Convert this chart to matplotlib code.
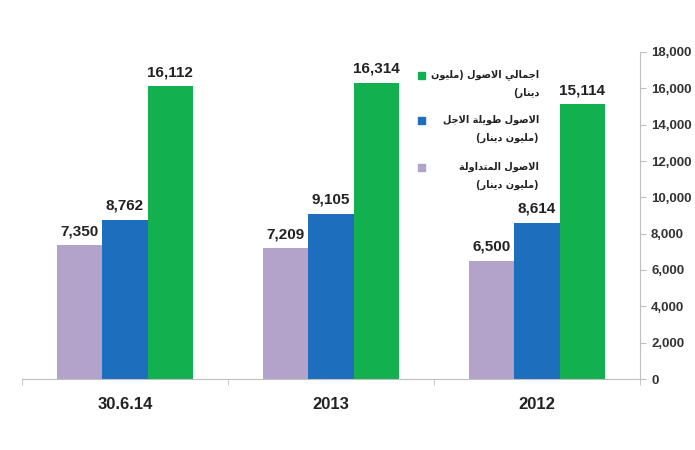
import matplotlib
matplotlib.use("Agg")
import numpy as np
import matplotlib.pyplot as plt
from matplotlib.patches import Rectangle

# data
categories = ["30.6.14", "2013", "2012"]
current_assets = [7350, 7209, 6500]
longterm_assets = [8762, 9105, 8614]
total_assets = [16112, 16314, 15114]
series_names = [
    ["اجمالي الاصول (مليون", "دينار)"],
    ["الاصول طويلة الاجل", "(مليون دينار)"],
    ["الاصول المتداولة", "(مليون دينار)"],
]
colors = ["#B3A3CA", "#1D6FBD", "#12B04F"]

# tiny arabic shaper (matplotlib has no bidi/shaping)
FORMS = {
    'ا': (0xFE8D, 0xFE8E, None, None),
    'ت': (0xFE95, 0xFE96, 0xFE97, 0xFE98),
    'ة': (0xFE93, 0xFE94, None, None),
    'ج': (0xFE9D, 0xFE9E, 0xFE9F, 0xFEA0),
    'د': (0xFEA9, 0xFEAA, None, None),
    'ر': (0xFEAD, 0xFEAE, None, None),
    'ص': (0xFEB9, 0xFEBA, 0xFEBB, 0xFEBC),
    'ط': (0xFEC1, 0xFEC2, 0xFEC3, 0xFEC4),
    'ل': (0xFEDD, 0xFEDE, 0xFEDF, 0xFEE0),
    'م': (0xFEE1, 0xFEE2, 0xFEE3, 0xFEE4),
    'ن': (0xFEE5, 0xFEE6, 0xFEE7, 0xFEE8),
    'و': (0xFEED, 0xFEEE, None, None),
    'ي': (0xFEF1, 0xFEF2, 0xFEF3, 0xFEF4),
    'LA': (0xFEFB, 0xFEFC, None, None),
}


def shape(s):
    toks = []
    i = 0
    while i < len(s):
        if s[i] == 'ل' and i + 1 < len(s) and s[i + 1] == 'ا':
            toks.append('LA')
            i += 2
        else:
            toks.append(s[i])
            i += 1
    out = []
    for k, t in enumerate(toks):
        if t not in FORMS:
            out.append({'(': ')', ')': '('}.get(t, t))
            continue
        f = FORMS[t]
        prev = k > 0 and toks[k - 1] in FORMS and FORMS[toks[k - 1]][2] is not None
        nxt = f[2] is not None and k + 1 < len(toks) and toks[k + 1] in FORMS
        if prev and nxt:
            c = f[3]
        elif prev:
            c = f[1]
        elif nxt:
            c = f[2]
        else:
            c = f[0]
        out.append(chr(c))
    return "".join(reversed(out))


fig = plt.figure(figsize=(6.95, 4.5), dpi=100)
ax = fig.add_axes([22 / 695, 1 - 379 / 450, (640 - 22) / 695, (379 - 52) / 450])

x = np.arange(len(categories))
w = 0.22
allv = [current_assets, longterm_assets, total_assets]
for j, vals in enumerate(allv):
    bars = ax.bar(x + (j - 1) * w, vals, w, color=colors[j], linewidth=0)
    for b, v in zip(bars, vals):
        ax.annotate(f"{v:,}", (b.get_x() + b.get_width() / 2, v), xytext=(0, 5),
                    textcoords="offset points", ha="center", va="bottom",
                    fontsize=11, fontweight="bold", family="Liberation Sans", color="#222222")

ax.set_xlim(-0.5, 2.5)
ax.set_ylim(0, 18000)
ax.set_yticks(np.arange(0, 18001, 2000))
ax.set_yticklabels([f"{t:,}" for t in range(0, 18001, 2000)], fontsize=9.5,
                   fontweight="bold", family="Liberation Sans", color="#333333")
ax.yaxis.tick_right()
ax.tick_params(axis="y", length=4, color="#BFBFBF", pad=4)

ax.set_xticks(x)
ax.set_xticklabels(categories, fontsize=12, fontweight="bold",
                   family="Liberation Sans", color="#222222")
ax.set_xticks([-0.5, 0.5, 1.5, 2.5], minor=True)
ax.tick_params(axis="x", which="major", length=0, pad=13)
ax.tick_params(axis="x", which="minor", length=4, color="#BFBFBF")

for s in ["top", "left"]:
    ax.spines[s].set_visible(False)
for s in ["right", "bottom"]:
    ax.spines[s].set_color("#BFBFBF")

# legend drawn by hand, right-to-left
rows = [(75, 93), (120, 138), (167, 185)]
order = [2, 1, 0]
for k, ((y1, y2), idx) in enumerate(zip(rows, order)):
    fig.patches.append(Rectangle((418 / 695, 1 - (y1 + 4) / 450), 7 / 695, 7 / 450,
                                 transform=fig.transFigure, color=colors[idx]))
    for line, yy in zip(series_names[k], (y1, y2)):
        fig.text(539 / 695, 1 - yy / 450, shape(line), ha="right", va="center",
                 fontsize=7, fontweight="bold", family="DejaVu Sans", color="#222222")

fig.savefig("out.png", dpi=100)
